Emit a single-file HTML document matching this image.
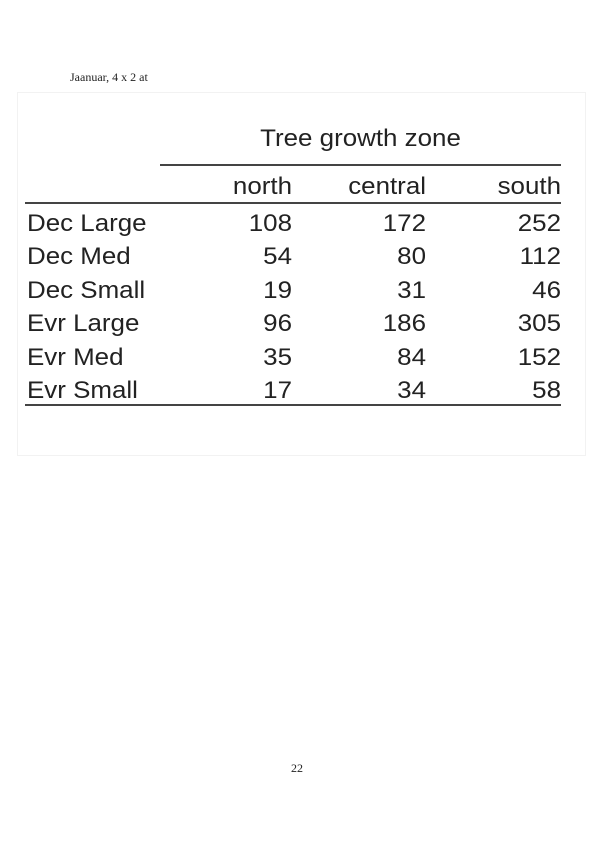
<!DOCTYPE html>
<html><head><meta charset="utf-8"><style>
body{margin:0;width:596px;height:842px;background:#fff;position:relative;overflow:hidden;font-family:"Liberation Sans",sans-serif;color:#222}
.t{position:absolute;white-space:nowrap;font-size:24px;line-height:22px;transform:scaleX(1.08);transform-origin:left center}
.r{text-align:right;transform-origin:right center}
.c{transform-origin:center center}
.ln{position:absolute;background:#444}
</style></head><body>
<div style="position:absolute;left:70px;top:70px;font-family:'Liberation Serif',serif;font-size:12px">Jaanuar, 4 x 2 at</div>
<div style="position:absolute;left:17px;top:92px;width:567px;height:362px;border:1px solid #f2f2f2"></div>
<div class="t c" style="left:160px;width:401px;text-align:center;top:128px">Tree growth zone</div>
<div class="ln" style="left:160px;width:401px;top:164px;height:1.5px"></div>
<div class="ln" style="left:25px;width:536px;top:202px;height:2px"></div>
<div class="ln" style="left:25px;width:536px;top:404px;height:1.5px"></div>
<div id="tbl"></div>
<div style="position:absolute;left:291px;top:761px;font-family:'Liberation Serif',serif;font-size:12px">22</div>
<script>
const columns=["north","central","south"];
const rows=["Dec Large","Dec Med","Dec Small","Evr Large","Evr Med","Evr Small"];
const north=[108,54,19,96,35,17];
const central=[172,80,31,186,84,34];
const south=[252,112,46,305,152,58];
const series=[north,central,south];
const tbl=document.getElementById('tbl');
const colRight=[292,426,561];
function add(txt,left,top,right,name){
  const d=document.createElement('div');
  d.className='t'+(right?' r':'');
  d.textContent=txt;
  if(right){d.style.left=(left-150)+'px';d.style.width='150px';}else d.style.left=left+'px';
  d.style.top=top+'px';
  
  
  tbl.appendChild(d);
}
columns.forEach((c,i)=>add(c,colRight[i],176,true,'column-header-'+c));
rows.forEach((r,j)=>{
  const top=213+j*33.4;
  add(r,27,top,false,'row-label-'+r.toLowerCase().replace(' ','-'));
  series.forEach((s,i)=>add(String(s[j]),colRight[i],top,true,'cell-'+columns[i]+'-'+j));
});
</script>
</body></html>
